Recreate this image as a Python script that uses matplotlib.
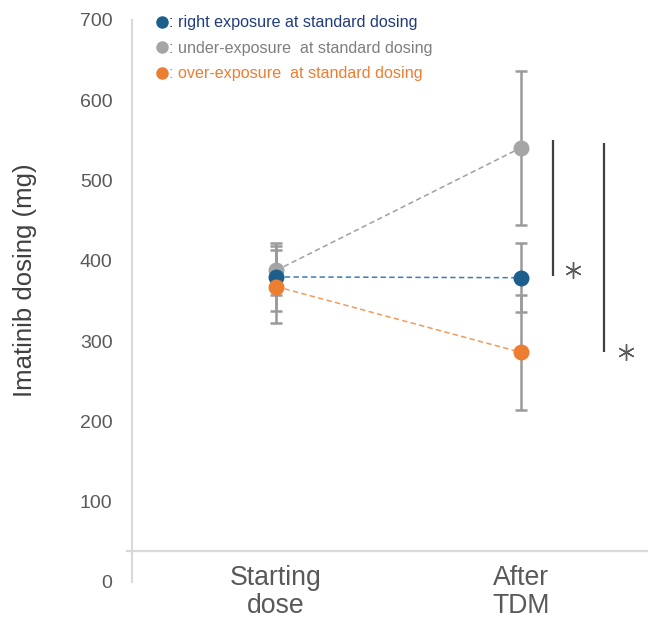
import matplotlib
matplotlib.use("Agg")
import matplotlib.pyplot as plt
from matplotlib.lines import Line2D

plt.rcParams['font.family'] = ['Liberation Sans', 'DejaVu Sans']

categories = ["Starting\ndose", "After\nTDM"]
series_names = [": under-exposure  at standard dosing",
                ": right exposure at standard dosing",
                ": over-exposure  at standard dosing"]
legend_order = [1, 0, 2]
under_mean = [388, 541]
under_err = [30, 96]
right_mean = [380, 379]
right_err = [42, 43]
over_mean = [368, 286]
over_err = [45, 72]
point_colors = ["#A5A5A5", "#1D5F8C", "#ED7D31"]
line_colors = ["#A0A0A0", "#3C7DB4", "#F29A5C"]
text_colors = ["#7F7F7F", "#203C7C", "#ED7D31"]

# significance brackets: (low value, high value)
sig_pairs = [(381, 550), (286, 547)]
sig_offsets = [0.13, 0.34]
star_offsets = [0.21, 0.43]
star_values = [388, 286]

yticks = [0, 100, 200, 300, 400, 500, 600, 700]
baseline_value = 38

fig = plt.figure(figsize=(6.48, 6.21), dpi=100)
ax = fig.add_axes([132/648, 39/621, 516/648, 562/621])
ax.set_xlim(-0.588, 1.518)
ax.set_ylim(0, 700)

x = [0, 1]
means = [under_mean, right_mean, over_mean]
errs = [under_err, right_err, over_err]

for i in range(3):
    ax.plot(x, means[i], ls=(0, (3.5, 2.2)), lw=1.1, color=line_colors[i], zorder=2)
for i in range(3):
    ax.errorbar(x, means[i], yerr=errs[i], fmt='none', ecolor='#9A9A9A',
                elinewidth=1.8, capsize=4.3, capthick=1.8, zorder=3)
for i in range(3):
    ax.plot(x, means[i], 'o', ms=11.5, color=point_colors[i], mec='none', zorder=4)

for (lo, hi), off, soff, sv in zip(sig_pairs, sig_offsets, star_offsets, star_values):
    ax.plot([1 + off, 1 + off], [lo, hi], color='#404040', lw=1.6, solid_capstyle='butt')
    ax.plot([1 + soff], [sv], marker=(6, 2, 0), ms=12, color='#595959',
            mew=1.0, clip_on=False)

ax.axhline(baseline_value, xmin=-0.01, xmax=1, color='#D9D9D9', lw=1.6,
           clip_on=False, zorder=1)

for s in ['top', 'right', 'bottom']:
    ax.spines[s].set_visible(False)
ax.spines['left'].set_color('#D9D9D9')
ax.spines['left'].set_linewidth(1.5)

ax.set_yticks(yticks)
ax.set_yticklabels([str(v) for v in yticks])
ax.tick_params(axis='y', length=0, pad=14, labelsize=14, labelcolor='#595959')
ax.set_xticks(x)
ax.set_xticklabels(categories, linespacing=1.08)
ax.tick_params(axis='x', length=0, pad=-12, labelsize=19.2, labelcolor='#595959')

ax.set_ylabel("Imatinib dosing (mg)", fontsize=18.5, color='#404040')
ax.yaxis.set_label_coords(-0.184, 0.537)

handles = [Line2D([], [], ls='none', marker='o', ms=9, color=point_colors[i], mec='none')
           for i in legend_order]
labels = [series_names[i] for i in legend_order]
leg = ax.legend(handles, labels, loc='upper left', bbox_to_anchor=(0.036, 1.02),
                frameon=False, fontsize=11.6, handlelength=0.6, handletextpad=0.15,
                labelspacing=0.66, borderaxespad=0,
                labelcolor=[text_colors[i] for i in legend_order])

fig.savefig("out.png", dpi=100)
